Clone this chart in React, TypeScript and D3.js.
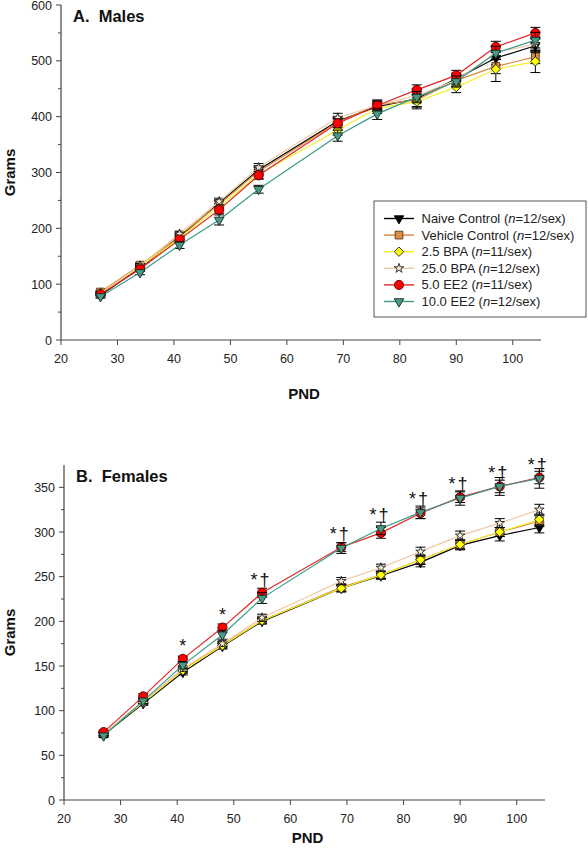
import React from "react";
import * as d3 from "d3";

const pnd = [27, 34, 41, 48, 55, 69, 76, 83, 90, 97, 104];
const seriesNames = ["Naive Control", "Vehicle Control", "2.5 BPA", "25.0 BPA", "5.0 EE2", "10.0 EE2"];
const seriesN = ["12", "12", "11", "12", "11", "12"];

// Males (grams)
const maleNaive = [80, 129, 185, 245, 305, 392, 418, 432, 468, 505, 527];
const maleVehicle = [86, 134, 187, 243, 302, 390, 421, 430, 465, 490, 507];
const maleBpa25low = [84, 131, 183, 238, 297, 376, 415, 427, 453, 485, 499];
const maleBpa25high = [83, 133, 190, 248, 309, 398, 420, 438, 465, 515, 530];
const maleEe5 = [82, 127, 180, 233, 295, 388, 420, 448, 474, 525, 550];
const maleEe10 = [78, 121, 170, 215, 270, 366, 405, 435, 463, 514, 537];
const maleNaiveSE = [3, 4, 5, 6, 7, 8, 8, 18, 10, 12, 12];
const maleVehicleSE = [3, 4, 5, 7, 8, 9, 9, 12, 11, 13, 12];
const maleBpa25lowSE = [3, 4, 5, 6, 8, 9, 9, 10, 10, 22, 20];
const maleBpa25highSE = [3, 4, 5, 6, 7, 8, 8, 10, 10, 12, 13];
const maleEe5SE = [3, 4, 5, 6, 7, 8, 8, 9, 9, 10, 10];
const maleEe10SE = [3, 4, 6, 9, 7, 10, 10, 10, 10, 12, 14];

// Females (grams)
const femaleNaive = [73, 108, 143, 172, 200, 237, 251, 266, 285, 296, 305];
const femaleVehicle = [74, 110, 146, 174, 201, 238, 252, 269, 286, 300, 312];
const femaleBpa25low = [74, 109, 145, 173, 201, 237, 252, 269, 286, 300, 314];
const femaleBpa25high = [74, 110, 147, 175, 204, 245, 260, 278, 296, 310, 325];
const femaleEe5 = [76, 116, 158, 193, 232, 283, 299, 321, 339, 351, 361];
const femaleEe10 = [72, 111, 151, 185, 226, 282, 304, 322, 338, 351, 360];
const femaleNaiveSE = [2, 2, 3, 3, 3, 4, 4, 5, 5, 6, 6];
const femaleVehicleSE = [2, 2, 3, 3, 3, 4, 4, 5, 5, 5, 6];
const femaleBpa25lowSE = [2, 2, 3, 3, 3, 4, 4, 5, 5, 5, 6];
const femaleBpa25highSE = [2, 2, 3, 3, 4, 4, 4, 5, 5, 5, 6];
const femaleEe5SE = [2, 3, 3, 4, 5, 5, 6, 6, 6, 7, 7];
const femaleEe10SE = [2, 3, 4, 5, 6, 6, 7, 7, 8, 10, 11];

const femaleSigPnd = [41, 48, 55, 69, 76, 83, 90, 97, 104];
const femaleSigLabels = ["*", "*", "*†", "*†", "*†", "*†", "*†", "*†", "*†"];

const xTicks = [20, 30, 40, 50, 60, 70, 80, 90, 100];
const maleYTicks = [0, 100, 200, 300, 400, 500, 600];
const femaleYTicks = [0, 50, 100, 150, 200, 250, 300, 350];

const FONT = "'Liberation Sans', Arial, sans-serif";
const AXIS = "#444";

type Style = { line: string; fill: string; stroke: string; shape: string; size: number };
const styles: Style[] = [
  { line: "#000000", fill: "#000000", stroke: "#000000", shape: "tri", size: 38 },
  { line: "#d8893c", fill: "#da8f46", stroke: "#5a3a1a", shape: "square", size: 60 },
  { line: "#f5f02a", fill: "#ffff00", stroke: "#333333", shape: "diamond", size: 44 },
  { line: "#f0c8a8", fill: "#f6ecd6", stroke: "#222222", shape: "star", size: 28 },
  { line: "#e02828", fill: "#ff0000", stroke: "#5a0000", shape: "circle", size: 66 },
  { line: "#3a9a88", fill: "#4a9985", stroke: "#1a2a25", shape: "tri", size: 40 },
];

function markerPath(shape: string, size: number): { d: string; rot: number } {
  if (shape === "tri") return { d: d3.symbol().type(d3.symbolTriangle).size(size)()!, rot: 180 };
  if (shape === "square") return { d: d3.symbol().type(d3.symbolSquare).size(size)()!, rot: 0 };
  if (shape === "diamond") return { d: d3.symbol().type(d3.symbolSquare).size(size)()!, rot: 45 };
  if (shape === "star") return { d: d3.symbol().type(d3.symbolStar).size(size)()!, rot: 0 };
  return { d: d3.symbol().type(d3.symbolCircle).size(size)()!, rot: 0 };
}

function Marker({ x, y, st }: { x: number; y: number; st: Style }) {
  const m = markerPath(st.shape, st.size);
  return (
    <path
      d={m.d}
      transform={`translate(${x},${y}) rotate(${m.rot})`}
      fill={st.fill}
      stroke={st.stroke}
      strokeWidth={0.9}
    />
  );
}

type PanelProps = {
  x0: number; x1: number; yTop: number; yBot: number; yMax: number;
  yTicks: number[]; minorStep: number; title: string; pndOffset: number;
  data: number[][]; se: number[][];
  sigPnd?: number[]; sigLabels?: string[];
};

function Panel(p: PanelProps) {
  const x = d3.scaleLinear().domain([20, 105]).range([p.x0, p.x1]);
  const y = d3.scaleLinear().domain([0, p.yMax]).range([p.yBot, p.yTop]);
  const minor = d3.range(p.minorStep, p.yMax, p.minorStep * 2);
  const line = d3.line<number>().x((_, i) => x(pnd[i])).y((v) => y(v));
  return (
    <g>
      {p.data.map((vals, si) => {
        const st = styles[si];
        return (
          <g key={si}>
            {vals.map((v, i) => {
              const cx = x(pnd[i]);
              const e = p.se[si][i];
              return (
                <g key={i} stroke="#000" strokeWidth={1}>
                  <line x1={cx} x2={cx} y1={y(v - e)} y2={y(v + e)} />
                  <line x1={cx - 5} x2={cx + 5} y1={y(v - e)} y2={y(v - e)} />
                  <line x1={cx - 5} x2={cx + 5} y1={y(v + e)} y2={y(v + e)} />
                </g>
              );
            })}
            <path d={line(vals)!} fill="none" stroke={st.line} strokeWidth={1.2} />
            {vals.map((v, i) => (
              <Marker key={i} x={x(pnd[i])} y={y(v)} st={st} />
            ))}
          </g>
        );
      })}
      {p.sigPnd &&
        p.sigPnd.map((d, k) => {
          const i = pnd.indexOf(d);
          const top = Math.max(p.data[4][i], p.data[5][i]);
          const lab = p.sigLabels![k];
          return (
            <text
              key={k}
              x={x(d) - (lab.length > 1 ? 1 : 0)}
              y={y(top) - 7}
              textAnchor="middle"
              fontFamily={FONT}
              fontSize={18}
              letterSpacing={lab.length > 1 ? 2 : 0}
              fill="#111"
            >
              {lab}
            </text>
          );
        })}
      <line x1={p.x0} x2={p.x0} y1={p.yTop} y2={p.yBot} stroke={AXIS} strokeWidth={1.2} />
      <line x1={p.x0} x2={p.x1} y1={p.yBot} y2={p.yBot} stroke={AXIS} strokeWidth={1.2} />
      {p.yTicks.map((t) => (
        <g key={t}>
          <line x1={p.x0 - 5} x2={p.x0} y1={y(t)} y2={y(t)} stroke={AXIS} />
          <text x={p.x0 - 9} y={y(t) + 4.5} textAnchor="end" fontFamily={FONT} fontSize={12.5} fill="#222">
            {t}
          </text>
        </g>
      ))}
      {minor.map((t) => (
        <line key={t} x1={p.x0 - 3} x2={p.x0} y1={y(t)} y2={y(t)} stroke={AXIS} />
      ))}
      {xTicks.map((t) => (
        <g key={t}>
          <line x1={x(t)} x2={x(t)} y1={p.yBot} y2={p.yBot + 5} stroke={AXIS} />
          <text x={x(t)} y={p.yBot + 23} textAnchor="middle" fontFamily={FONT} fontSize={12.5} fill="#222">
            {t}
          </text>
        </g>
      ))}
      <text
        transform={`translate(15,${(p.yTop + p.yBot) / 2}) rotate(-90)`}
        textAnchor="middle"
        fontFamily={FONT}
        fontSize={15}
        fontWeight="bold"
        fill="#111"
      >
        Grams
      </text>
      <text x={(p.x0 + p.x1) / 2 + 3} y={p.yBot + p.pndOffset} textAnchor="middle" fontFamily={FONT} fontSize={15} fontWeight="bold" fill="#111">
        PND
      </text>
      <text x={p.x0 + 12} y={p.yTop + 17} fontFamily={FONT} fontSize={16.5} fontWeight="bold" fill="#111" xmlSpace="preserve">
        {p.title}
      </text>
    </g>
  );
}

function Legend() {
  const lx = 374, ly = 201, lw = 212, lh = 116;
  return (
    <g>
      <rect x={lx} y={ly} width={lw} height={lh} fill="#fff" stroke="#555" strokeWidth={1} />
      {seriesNames.map((nm, i) => {
        const cy = ly + 17.5 + i * 16.6;
        const st = styles[i];
        return (
          <g key={i}>
            <line x1={384} x2={414} y1={cy} y2={cy} stroke={st.line} strokeWidth={1.4} />
            <Marker x={399} y={cy} st={st} />
            <text x={421.5} y={cy + 4.5} fontFamily={FONT} fontSize={13} fill="#222">
              {nm} (<tspan fontStyle="italic">n</tspan>={seriesN[i]}/sex)
            </text>
          </g>
        );
      })}
    </g>
  );
}

export default function App() {
  return (
    <svg width={588} height={853} style={{ position: "absolute", left: 0, top: 0, background: "#fff" }}>
      <rect width={588} height={853} fill="#fff" />
      <Panel
        x0={61} x1={541} yTop={5} yBot={340} yMax={600} pndOffset={59}
        yTicks={maleYTicks} minorStep={50} title={"A.  Males"}
        data={[maleNaive, maleVehicle, maleBpa25low, maleBpa25high, maleEe5, maleEe10]}
        se={[maleNaiveSE, maleVehicleSE, maleBpa25lowSE, maleBpa25highSE, maleEe5SE, maleEe10SE]}
      />
      <Legend />
      <Panel
        x0={64} x1={545} yTop={465} yBot={800} yMax={375} pndOffset={43}
        yTicks={femaleYTicks} minorStep={25} title={"B.  Females"}
        data={[femaleNaive, femaleVehicle, femaleBpa25low, femaleBpa25high, femaleEe5, femaleEe10]}
        se={[femaleNaiveSE, femaleVehicleSE, femaleBpa25lowSE, femaleBpa25highSE, femaleEe5SE, femaleEe10SE]}
        sigPnd={femaleSigPnd} sigLabels={femaleSigLabels}
      />
    </svg>
  );
}
